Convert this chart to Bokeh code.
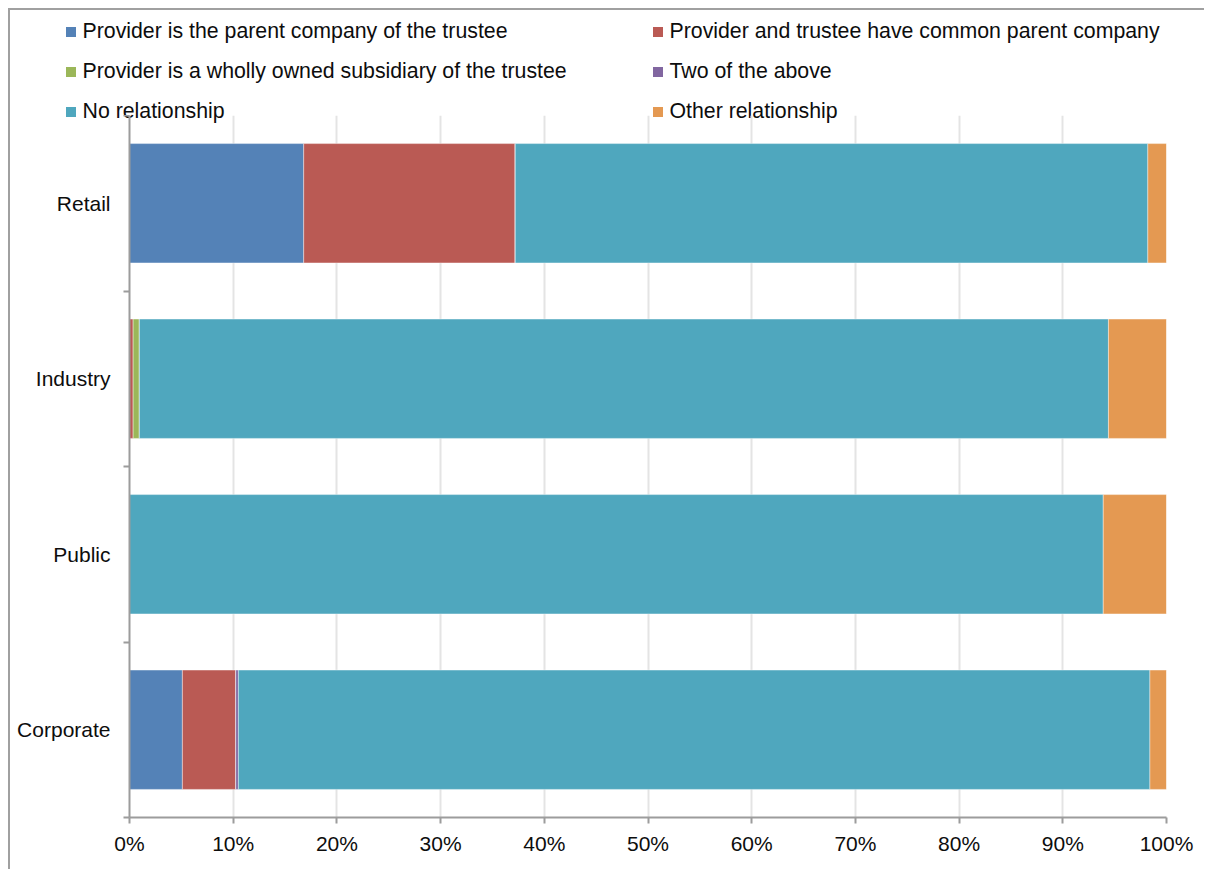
from bokeh.plotting import figure
from bokeh.layouts import column
from bokeh.models import (ColumnDataSource, Range1d, FixedTicker, PrintfTickFormatter,
                          Legend, LegendItem)
from bokeh.embed import file_html
from bokeh.resources import INLINE

categories = ["Corporate", "Public", "Industry", "Retail"]
series_names = [
    "Provider is the parent company of the trustee",
    "Provider and trustee have common parent company",
    "Provider is a wholly owned subsidiary of the trustee",
    "Two of the above",
    "No relationship",
    "Other relationship",
]
parent_co = [5.1, 0.0, 0.0, 16.8]
common_parent = [5.15, 0.0, 0.35, 20.4]
wholly_owned = [0.0, 0.0, 0.6, 0.0]
two_of_above = [0.25, 0.0, 0.0, 0.0]
no_relationship = [87.9, 93.9, 93.45, 61.0]
other_relationship = [1.6, 6.1, 5.6, 1.8]
x_ticks = [0, 10, 20, 30, 40, 50, 60, 70, 80, 90, 100]

colors = ["#5482B7", "#BA5A54", "#9BB759", "#8166A0", "#4FA7BE", "#E49952"]
keys = ["s0", "s1", "s2", "s3", "s4", "s5"]

ypos = [i + 0.5 for i in range(len(categories))]
source = ColumnDataSource(dict(
    y=ypos, s0=parent_co, s1=common_parent, s2=wholly_owned,
    s3=two_of_above, s4=no_relationship, s5=other_relationship))

FONT = "Liberation Sans"
AXIS_GREY = "#9c9c9c"
W = 1196

# ---------------- legend strip ----------------
# Its ranges are placed away from the data so the series' markers stay out of view;
# only the legend is shown in this strip.
leg = figure(width=W, height=115, output_backend="svg", toolbar_location=None,
             x_range=Range1d(0, 1), y_range=Range1d(100, 101),
             x_axis_type=None, y_axis_type=None,
             min_border_left=0, min_border_right=0, min_border_top=0,
             min_border_bottom=0)
leg.frame_align = False
leg.outline_line_color = None
leg.border_fill_alpha = 0
leg.background_fill_alpha = 0
leg.grid.visible = False
leg_renderers = [leg.scatter(x=k, y="y", source=source, marker="square", size=10,
                             fill_color=c, line_color=None)
                 for k, c in zip(keys, colors)]
items = [LegendItem(label=n, renderers=[r]) for n, r in zip(series_names, leg_renderers)]
legend = Legend(items=items, orientation="horizontal", ncols=2,
                location=(49.5, -0.5), margin=0, padding=0, spacing=15,
                glyph_width=25, glyph_height=25, label_standoff=0,
                label_width=547, label_height=25,
                label_text_font=FONT, label_text_font_size="21.3px",
                label_text_color="#0d0d0d",
                border_line_color=None, background_fill_alpha=0)
leg.add_layout(legend, "center")

# ---------------- main chart ----------------
p = figure(width=W, height=754, output_backend="svg", toolbar_location=None,
           x_range=Range1d(0, 100), y_range=Range1d(0, len(categories)),
           min_border_left=121, min_border_right=38, min_border_top=0,
           min_border_bottom=52)
p.frame_align = False
p.styles = {"margin-top": "-8px"}
p.outline_line_color = None
p.border_fill_alpha = 0
p.background_fill_alpha = 0

p.hbar_stack(keys, y="y", height=0.68, color=colors, source=source,
             line_color="white", line_alpha=0.4, line_width=1)

p.xaxis.ticker = FixedTicker(ticks=x_ticks)
p.xaxis.formatter = PrintfTickFormatter(format="%d%%")
p.xaxis.axis_line_color = AXIS_GREY
p.xaxis.axis_line_width = 2
p.xaxis.major_tick_line_color = AXIS_GREY
p.xaxis.major_tick_line_width = 2
p.xaxis.major_tick_out = 6
p.xaxis.major_tick_in = 0
p.xaxis.minor_tick_line_color = None
p.xaxis.major_label_standoff = 8
p.xaxis.major_label_text_font = FONT
p.xaxis.major_label_text_font_size = "21px"
p.xaxis.major_label_text_color = "#0d0d0d"

p.yaxis.ticker = FixedTicker(ticks=ypos, minor_ticks=list(range(len(categories) + 1)))
p.yaxis.major_label_overrides = {y: c for y, c in zip(ypos, categories)}
p.yaxis.major_tick_out = 0
p.yaxis.major_tick_in = 0
p.yaxis.minor_tick_out = 6
p.yaxis.minor_tick_in = 0
p.yaxis.minor_tick_line_color = AXIS_GREY
p.yaxis.minor_tick_line_width = 2
p.yaxis.axis_line_color = AXIS_GREY
p.yaxis.axis_line_width = 2
p.yaxis.major_label_standoff = 13
p.yaxis.major_label_text_font = FONT
p.yaxis.major_label_text_font_size = "21px"
p.yaxis.major_label_text_color = "#0d0d0d"

p.xgrid.grid_line_color = "#e4e4e4"
p.xgrid.grid_line_width = 2
p.xgrid.ticker = FixedTicker(ticks=x_ticks)
p.ygrid.grid_line_color = None

layout = column(leg, p, spacing=0)
layout.styles = {"margin-left": "8px", "margin-top": "8px",
                 "box-shadow": "inset 2px 2px 0 0 #a0a0a0"}

open("out.html", "w").write(file_html(layout, INLINE))
